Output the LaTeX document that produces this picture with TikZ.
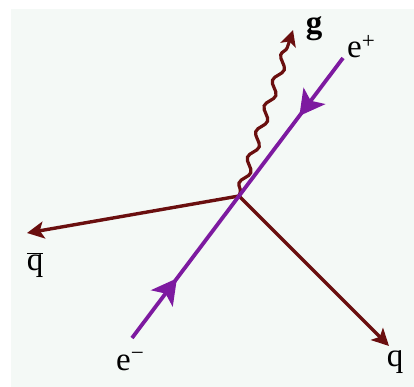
\documentclass[tikz,border=0pt]{standalone}
\usepackage{fontspec}
\setmainfont{Liberation Serif}
\usetikzlibrary{arrows.meta,decorations.markings,decorations.pathmorphing}
\definecolor{bgc}{HTML}{F4F9F6}
\definecolor{fermion}{HTML}{7D1AA0}
\definecolor{quark}{HTML}{6A0F0F}
\tikzset{
  lab/.style={inner sep=0pt, font=\fontsize{33}{36}\selectfont, text=black},
  fline/.style={fermion, line width=3.8pt},
  qline/.style={quark, line width=3.4pt, -{Stealth[length=17pt,width=17pt,inset=4pt]}},
  midarrow/.style={postaction={decorate}, decoration={markings,
     mark=at position #1 with {\arrow{Stealth[length=25pt,width=27pt,inset=6pt]}}}},
  gluon/.style={quark, line width=3.2pt, -{Stealth[length=16pt,width=16pt,inset=4pt]},
     decorate, decoration={snake, amplitude=4pt, segment length=27pt, pre length=4pt, post length=12pt}}
}
\begin{document}
\begin{tikzpicture}[x=1pt,y=-1pt]
\useasboundingbox (0,0) rectangle (414,387);
\fill[bgc] (11,9) rectangle (414,387);
\coordinate (V) at (239,196);
\coordinate (ep) at (343,58);
\coordinate (em) at (132,338);
\coordinate (qb) at (27,233);
\coordinate (q) at (389,346);
\coordinate (g) at (293,30);
% quark lines
\draw[qline] (V) -- (qb);
\draw[qline] (V) -- (q);
% gluon
\draw[gluon] (V) -- (g);
% electron / positron
\draw[fline, midarrow=0.42] (ep) -- (V);
\draw[fline, midarrow=0.42] (em) -- (V);
% labels
\node[lab, anchor=base] (gl) at (314,34) {\textbf{g}};
\node[lab, anchor=base west] (epl) at (347,58) {e\textsuperscript{+}};
\node[lab, anchor=base] (qbl) at (35,270) {$\overline{\mbox{q}}$};
\node[lab, anchor=base west] (eml) at (116,370) {e\textsuperscript{−}};
\node[lab, anchor=base] (ql) at (395,366) {q};
\end{tikzpicture}
\end{document}
